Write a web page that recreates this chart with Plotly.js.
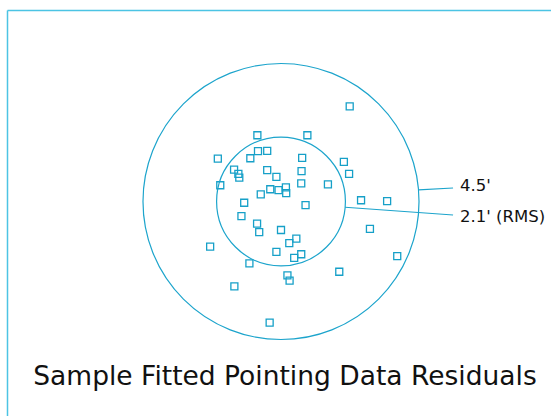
<!DOCTYPE html>
<html>
<head>
<meta charset="utf-8">
<script src="https://cdn.plot.ly/plotly-3.0.1.min.js"></script>
<style>html,body{margin:0;padding:0;background:#fff;}#chart{width:551px;height:416px;}</style>
</head>
<body>
<div id="chart"></div>
<script>
// Residuals (arcmin)
const residX = [2.24,-0.77,0.86,-0.75,-0.45,-2.06,-1.00,0.69,2.05,-1.53,-1.39,-1.36,-0.45,0.67,2.22,-0.15,-1.98,0.66,1.53,-0.35,-0.08,0.16,0.17,-0.66,2.61,3.46,-1.20,0.80,-1.29,-0.78,2.90,0.00,-0.71,0.50,0.27,-2.31,-0.15,0.66,0.43,3.79,-1.03,1.90,0.21,0.28,-1.52,-0.37];
const residY = [3.10,2.16,2.16,1.64,1.65,1.40,1.41,1.42,1.29,1.04,0.90,0.78,1.02,0.99,0.90,0.80,0.53,0.59,0.56,0.40,0.37,0.46,0.27,0.23,0.04,0.01,-0.04,-0.12,-0.48,-0.72,-0.89,-0.93,-1.00,-1.21,-1.36,-1.47,-1.64,-1.72,-1.84,-1.78,-2.02,-2.29,-2.41,-2.58,-2.77,-3.95];
const circleRadii = [4.5, 2.1];
const circleLabels = ["4.5'", "2.1' (RMS)"];
const chartTitle = "Sample Fitted Pointing Data Residuals";

const lineColor = '#1ca4cc';
const frameColor = '#4cc4e4';

// leader-line geometry (angles in degrees on each circle, end point and label offsets)
const leaderAngles = [4.8, -5.1];
const leaderEndX = 5.61;
const leaderEndY = [0.44, -0.44];
const labelY = [0.53, -0.48];

const shapes = [];
circleRadii.forEach(r => {
  shapes.push({type:'circle', xref:'x', yref:'y', x0:-r, x1:r, y0:-r, y1:r,
    line:{color:lineColor, width:1.2}});
});
circleRadii.forEach((r,i) => {
  const a = leaderAngles[i]*Math.PI/180;
  shapes.push({type:'line', xref:'x', yref:'y', x0:r*Math.cos(a), y0:r*Math.sin(a),
    x1:leaderEndX, y1:leaderEndY[i], line:{color:lineColor, width:1.2}});
});
// frame lines (left and top)
shapes.push({type:'line', xref:'paper', yref:'paper', x0:7.5/551, x1:7.5/551, y0:0, y1:1-10.5/416,
  line:{color:frameColor, width:1.5}});
shapes.push({type:'line', xref:'paper', yref:'paper', x0:7.5/551, x1:1, y0:1-10.5/416, y1:1-10.5/416,
  line:{color:frameColor, width:1.5}});

const annotations = circleLabels.map((t,i) => ({
  text:t, xref:'x', yref:'y', x:leaderEndX+0.16, y:labelY[i], xanchor:'left', yanchor:'middle',
  showarrow:false, font:{family:'DejaVu Sans', size:16.5, color:'#111'}
}));

const trace = {
  x: residX, y: residY, type:'scatter', mode:'markers',
  marker:{symbol:'square-open', size:7, color:'#16a0c8', line:{width:1.3, color:'#16a0c8'}},
  hoverinfo:'skip', cliponaxis:false
};

const scale = 30.67;
const layout = {
  width:551, height:416,
  margin:{l:0, r:0, t:0, b:0, pad:0},
  paper_bgcolor:'#fff', plot_bgcolor:'#fff',
  showlegend:false,
  xaxis:{range:[-281/scale, 270/scale], visible:false, showgrid:false, zeroline:false, fixedrange:true},
  yaxis:{range:[-214.5/scale, 201.5/scale], visible:false, showgrid:false, zeroline:false, fixedrange:true},
  title:{text:chartTitle, x:285/551, xanchor:'center', xref:'paper', y:1-376/416, yanchor:'middle', yref:'container',
    font:{family:'DejaVu Sans', size:26.5, color:'#111'}},
  shapes:shapes,
  annotations:annotations
};

Plotly.newPlot('chart', [trace], layout, {displayModeBar:false, staticPlot:true});
</script>
</body>
</html>
